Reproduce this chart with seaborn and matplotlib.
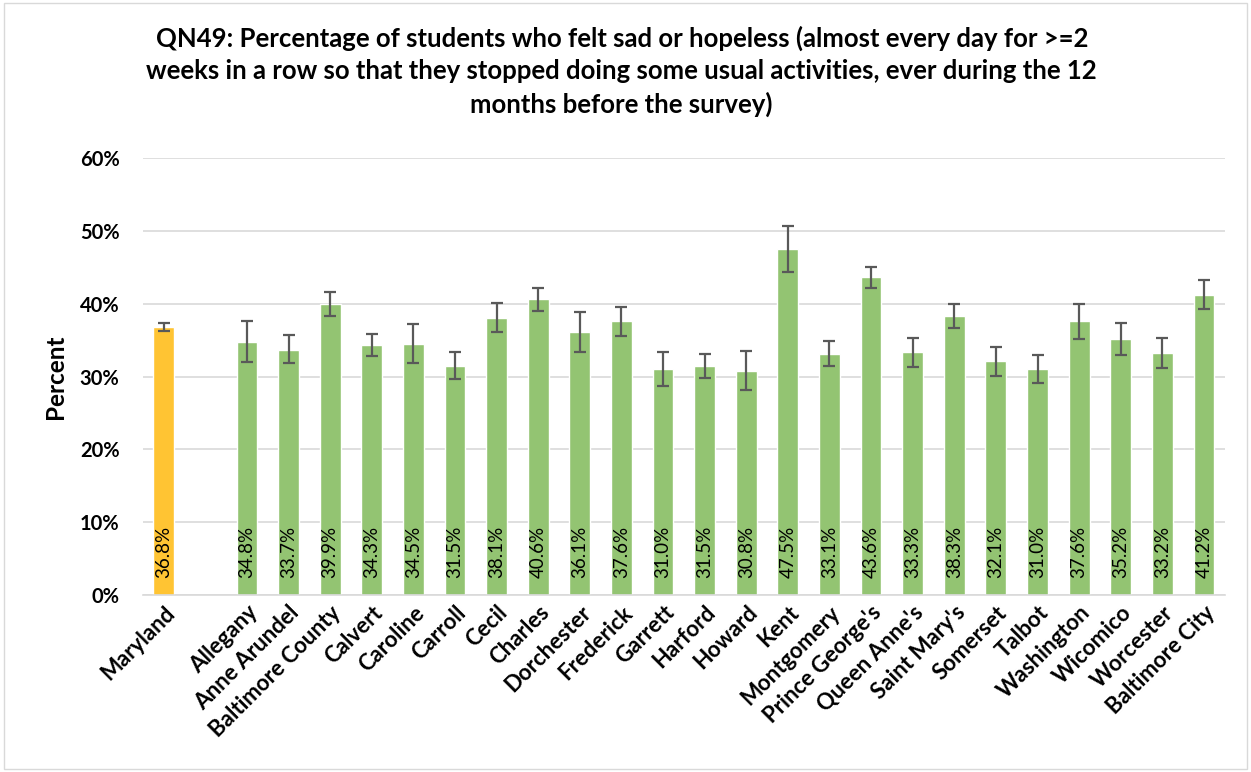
import matplotlib
matplotlib.use('Agg')
from matplotlib import pyplot as plt
from matplotlib.patches import Rectangle
import matplotlib.ticker as mtick
import pandas as pd
import seaborn as sns

TITLE = ('QN49: Percentage of students who felt sad or hopeless (almost every day for >=2\n'
         'weeks in a row so that they stopped doing some usual activities, ever during the 12\n'
         'months before the survey)')

areas = ['Maryland', 'Allegany', 'Anne Arundel', 'Baltimore County', 'Calvert', 'Caroline',
         'Carroll', 'Cecil', 'Charles', 'Dorchester', 'Frederick', 'Garrett', 'Harford',
         'Howard', 'Kent', 'Montgomery', "Prince George's", "Queen Anne's", "Saint Mary's",
         'Somerset', 'Talbot', 'Washington', 'Wicomico', 'Worcester', 'Baltimore City']
percent = [36.8, 34.8, 33.7, 39.9, 34.3, 34.5, 31.5, 38.1, 40.6, 36.1, 37.6, 31.0, 31.5,
           30.8, 47.5, 33.1, 43.6, 33.3, 38.3, 32.1, 31.0, 37.6, 35.2, 33.2, 41.2]
ci_low = [36.2, 32.0, 31.8, 38.3, 32.8, 31.8, 29.7, 36.1, 39.0, 33.3, 35.5, 28.7, 29.8,
          28.1, 44.3, 31.4, 42.1, 31.3, 36.6, 30.1, 29.1, 35.1, 33.0, 31.2, 39.3]
ci_high = [37.4, 37.6, 35.7, 41.6, 35.8, 37.2, 33.3, 40.1, 42.2, 38.8, 39.6, 33.4, 33.1,
           33.5, 50.7, 34.9, 45.0, 35.3, 40.0, 34.1, 32.9, 40.0, 37.3, 35.3, 43.2]

df = pd.DataFrame({'area': areas, 'percent': percent, 'low': ci_low, 'high': ci_high})

# empty slot between the state and the counties
order = [areas[0], ' '] + areas[1:]
palette = {a: ('#FFC433' if a == 'Maryland' else '#93C472') for a in areas}

FONT = 'Lato'
sns.set_theme(style='white', rc={'font.family': FONT, 'text.color': 'black',
                                 'axes.labelcolor': 'black', 'xtick.color': 'black',
                                 'ytick.color': 'black'})
plt.rcParams['font.family'] = [FONT, 'DejaVu Sans']

fig = plt.figure(figsize=(12.51, 7.72), dpi=100)
ax = fig.add_axes([0.1143, 0.2293, 0.8647, 0.566])

sns.barplot(ax=ax, data=df, x='area', y='percent', hue='area', order=order,
            palette=palette, legend=False, width=0.5, errorbar=None, saturation=1)

pos = [order.index(a) for a in df['area']]
ax.errorbar(pos, df['percent'],
            yerr=[df['percent'] - df['low'], df['high'] - df['percent']],
            fmt='none', ecolor='#595959', elinewidth=1.6, capsize=4.5, capthick=1.6, zorder=3)

for x, v in zip(pos, df['percent']):
    ax.text(x, 2.4, f'{v:.1f}%', rotation=90, ha='center', va='bottom',
            fontsize=13.5, color='black', zorder=4)

ax.set_xlim(-0.5, len(order) - 0.5)
ax.set_ylim(0, 60)
ax.yaxis.set_major_locator(mtick.MultipleLocator(10))
ax.yaxis.set_major_formatter(mtick.PercentFormatter(100, 0))
ax.grid(axis='y', color='#D9D9D9', linewidth=1.2)
ax.set_axisbelow(True)
for s in ['left', 'right', 'top']:
    ax.spines[s].set_visible(False)
ax.spines['bottom'].set_color('#D9D9D9')
ax.spines['bottom'].set_linewidth(1.2)
ax.tick_params(axis='y', length=0, pad=17)
for lab in ax.get_yticklabels():
    lab.set_fontsize(14.5)
    lab.set_fontweight('bold')
ax.set_xticks(range(len(order)))
ax.set_xticklabels(order, rotation=45, ha='right', rotation_mode='anchor',
                   fontsize=16, fontweight='bold')
ax.tick_params(axis='x', length=0, pad=5)
ax.set_xlabel('')
ax.set_ylabel('Percent', fontsize=17.5, fontweight='bold', labelpad=9)

fig.suptitle(TITLE, x=0.497, y=0.967, fontsize=18.5, fontweight='bold', linespacing=1.42)

fig.add_artist(Rectangle((0.003, 0.004), 0.994, 0.992, transform=fig.transFigure,
                         fill=False, edgecolor='#D9D9D9', linewidth=1))

fig.savefig('out.png', dpi=100)
